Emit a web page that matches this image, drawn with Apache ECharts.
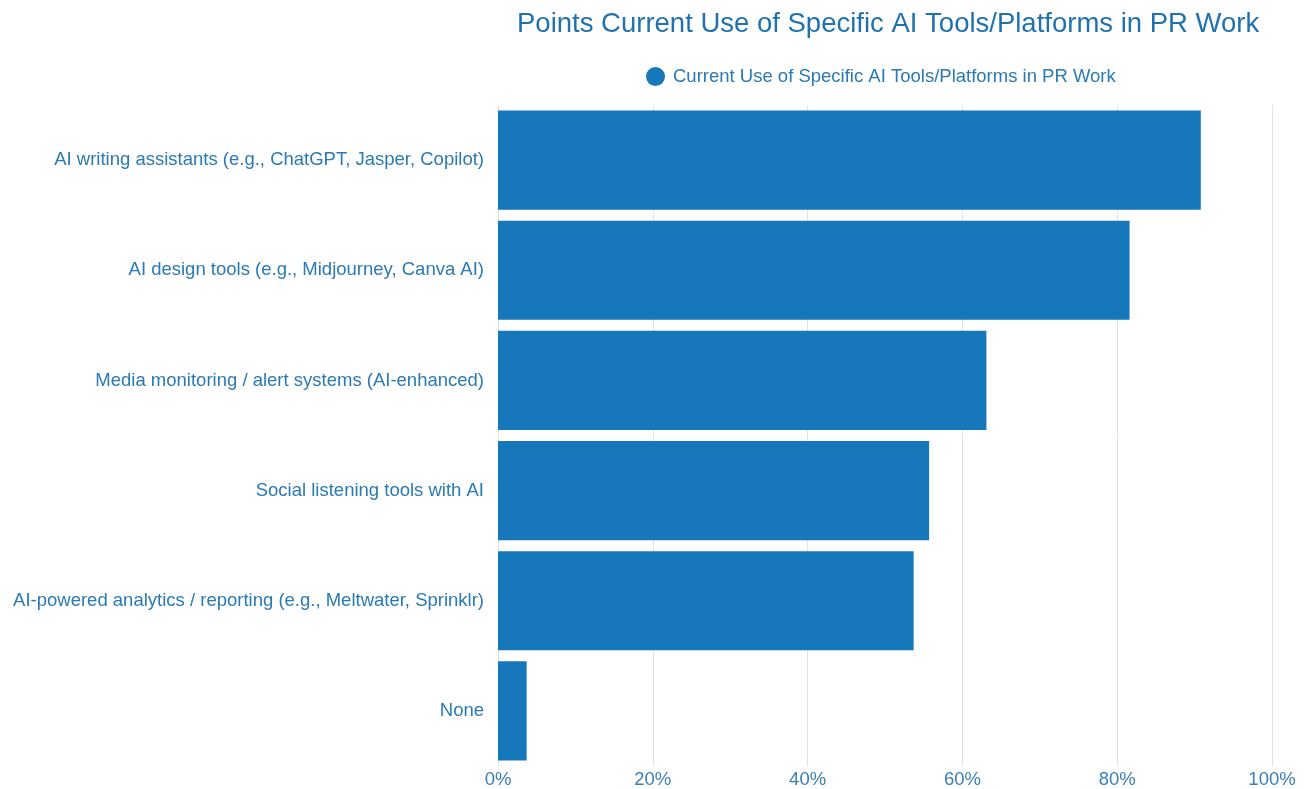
<!DOCTYPE html>
<html>
<head>
<meta charset="utf-8">
<script src="https://cdn.jsdelivr.net/npm/echarts@6/dist/echarts.min.js"></script>
<style>html,body{margin:0;padding:0;background:#fff}#c{width:1308px;height:789px}</style>
</head>
<body>
<div id="c"></div>
<script>
const categories = [
  "AI writing assistants (e.g., ChatGPT, Jasper, Copilot)",
  "AI design tools (e.g., Midjourney, Canva AI)",
  "Media monitoring / alert systems (AI-enhanced)",
  "Social listening tools with AI",
  "AI-powered analytics / reporting (e.g., Meltwater, Sprinklr)",
  "None"
];
const values = [90.8, 81.6, 63.1, 55.7, 53.7, 3.7];
const seriesName = "Current Use of Specific AI Tools/Platforms in PR Work";
const titleText = "Points Current Use of Specific AI Tools/Platforms in PR Work";

const chart = echarts.init(document.getElementById('c'));
const font = "'Liberation Sans', Arial, sans-serif";
chart.setOption({
  backgroundColor: '#ffffff',
  title: {
    text: titleText,
    left: 512, top: 5,
    textStyle: { color: '#1f72ad', fontSize: 27.5, fontWeight: 'normal', fontFamily: font }
  },
  legend: {
    data: [seriesName],
    left: 641, top: 62,
    icon: 'circle', itemWidth: 25, itemHeight: 19, itemGap: 8,
    textStyle: { color: '#2a7ab3', fontSize: 18.5, fontFamily: font }
  },
  grid: { left: 498, right: 36, top: 105, bottom: 23, containLabel: false },
  xAxis: {
    type: 'value', min: 0, max: 100, interval: 20,
    axisLabel: { formatter: '{value}%', color: '#3a7fb5', fontSize: 18.5, fontFamily: font, margin: 4 },
    axisLine: { show: false }, axisTick: { show: false },
    splitLine: { lineStyle: { color: '#dfe3e8', width: 1 } }
  },
  yAxis: {
    type: 'category', data: categories, inverse: true,
    axisLabel: { color: '#2a7ab3', fontSize: 18.5, fontFamily: font, margin: 14 },
    axisLine: { show: false }, axisTick: { show: false }
  },
  series: [{
    name: seriesName, type: 'bar', data: values,
    barCategoryGap: '10%',
    itemStyle: { color: '#1677ba' }
  }]
});
</script>
</body>
</html>
